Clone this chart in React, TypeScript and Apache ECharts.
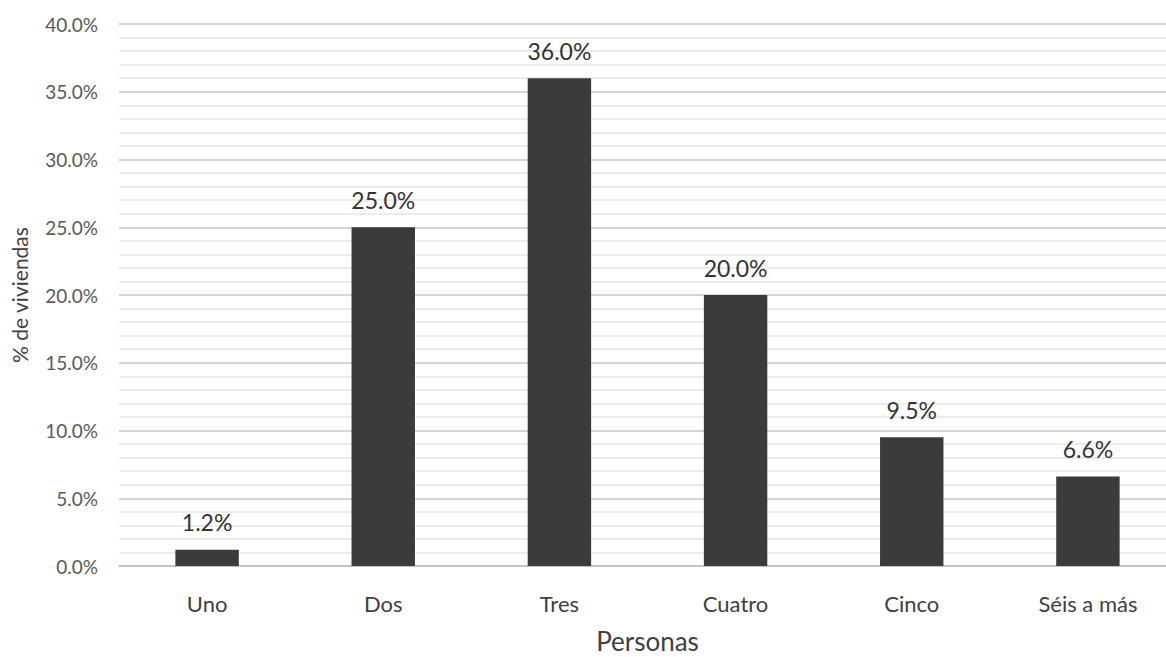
import React, { useEffect, useRef } from "react";
import * as echarts from "echarts";

const categories = ["Uno", "Dos", "Tres", "Cuatro", "Cinco", "Séis a más"];
const values = [1.2, 25.0, 36.0, 20.0, 9.5, 6.6];
const yTicks = { min: 0, max: 40, interval: 5 };

export default function App() {
  const ref = useRef<HTMLDivElement>(null);
  useEffect(() => {
    if (!ref.current) return;
    const chart = echarts.init(ref.current, null, { renderer: "svg" });
    const font = "Lato, 'Open Sans', sans-serif";
    chart.setOption({
      animation: false,
      textStyle: { fontFamily: font },
      grid: {
        left: 119,
        right: 4,
        top: 24,
        bottom: 91,
        containLabel: false,
        outerBoundsMode: "none",
      },
      xAxis: {
        type: "category",
        data: categories,
        name: "Personas",
        nameLocation: "middle",
        nameGap: 62,
        nameTextStyle: { fontSize: 26, color: "#404040", fontFamily: font, lineHeight: 26 },
        axisLine: { lineStyle: { color: "#bfbfbf", width: 1.5 } },
        axisTick: { show: false },
        axisLabel: { fontSize: 22, color: "#404040", margin: 26, fontFamily: font },
      },
      yAxis: {
        type: "value",
        min: yTicks.min,
        max: yTicks.max,
        interval: yTicks.interval,
        name: "% de viviendas",
        nameLocation: "middle",
        nameGap: 89,
        nameRotate: 90,
        nameTextStyle: { fontSize: 21, color: "#404040", fontFamily: font },
        axisLine: { show: false },
        axisTick: { show: false },
        axisLabel: {
          fontSize: 19,
          color: "#595959",
          margin: 21,
          fontFamily: font,
          formatter: (v: number) => v.toFixed(1) + "%",
        },
        splitLine: { lineStyle: { color: "#c6c6c6", width: 1.5 } },
        minorTick: { show: false, splitNumber: 5 },
        minorSplitLine: { show: true, lineStyle: { color: "#e4e4e4", width: 1.5 } },
      },
      series: [
        {
          type: "bar",
          data: values,
          barWidth: "36%",
          itemStyle: { color: "#3b3b3b" },
          label: {
            show: true,
            position: "top",
            distance: 16,
            fontSize: 23,
            color: "#333333",
            fontFamily: font,
            formatter: (p: any) => p.value.toFixed(1) + "%",
          },
        },
      ],
    });
    return () => chart.dispose();
  }, []);
  return (
    <div
      ref={ref}
      style={{ position: "fixed", left: 0, top: 0, width: 1180, height: 657, background: "#fff" }}
    />
  );
}
